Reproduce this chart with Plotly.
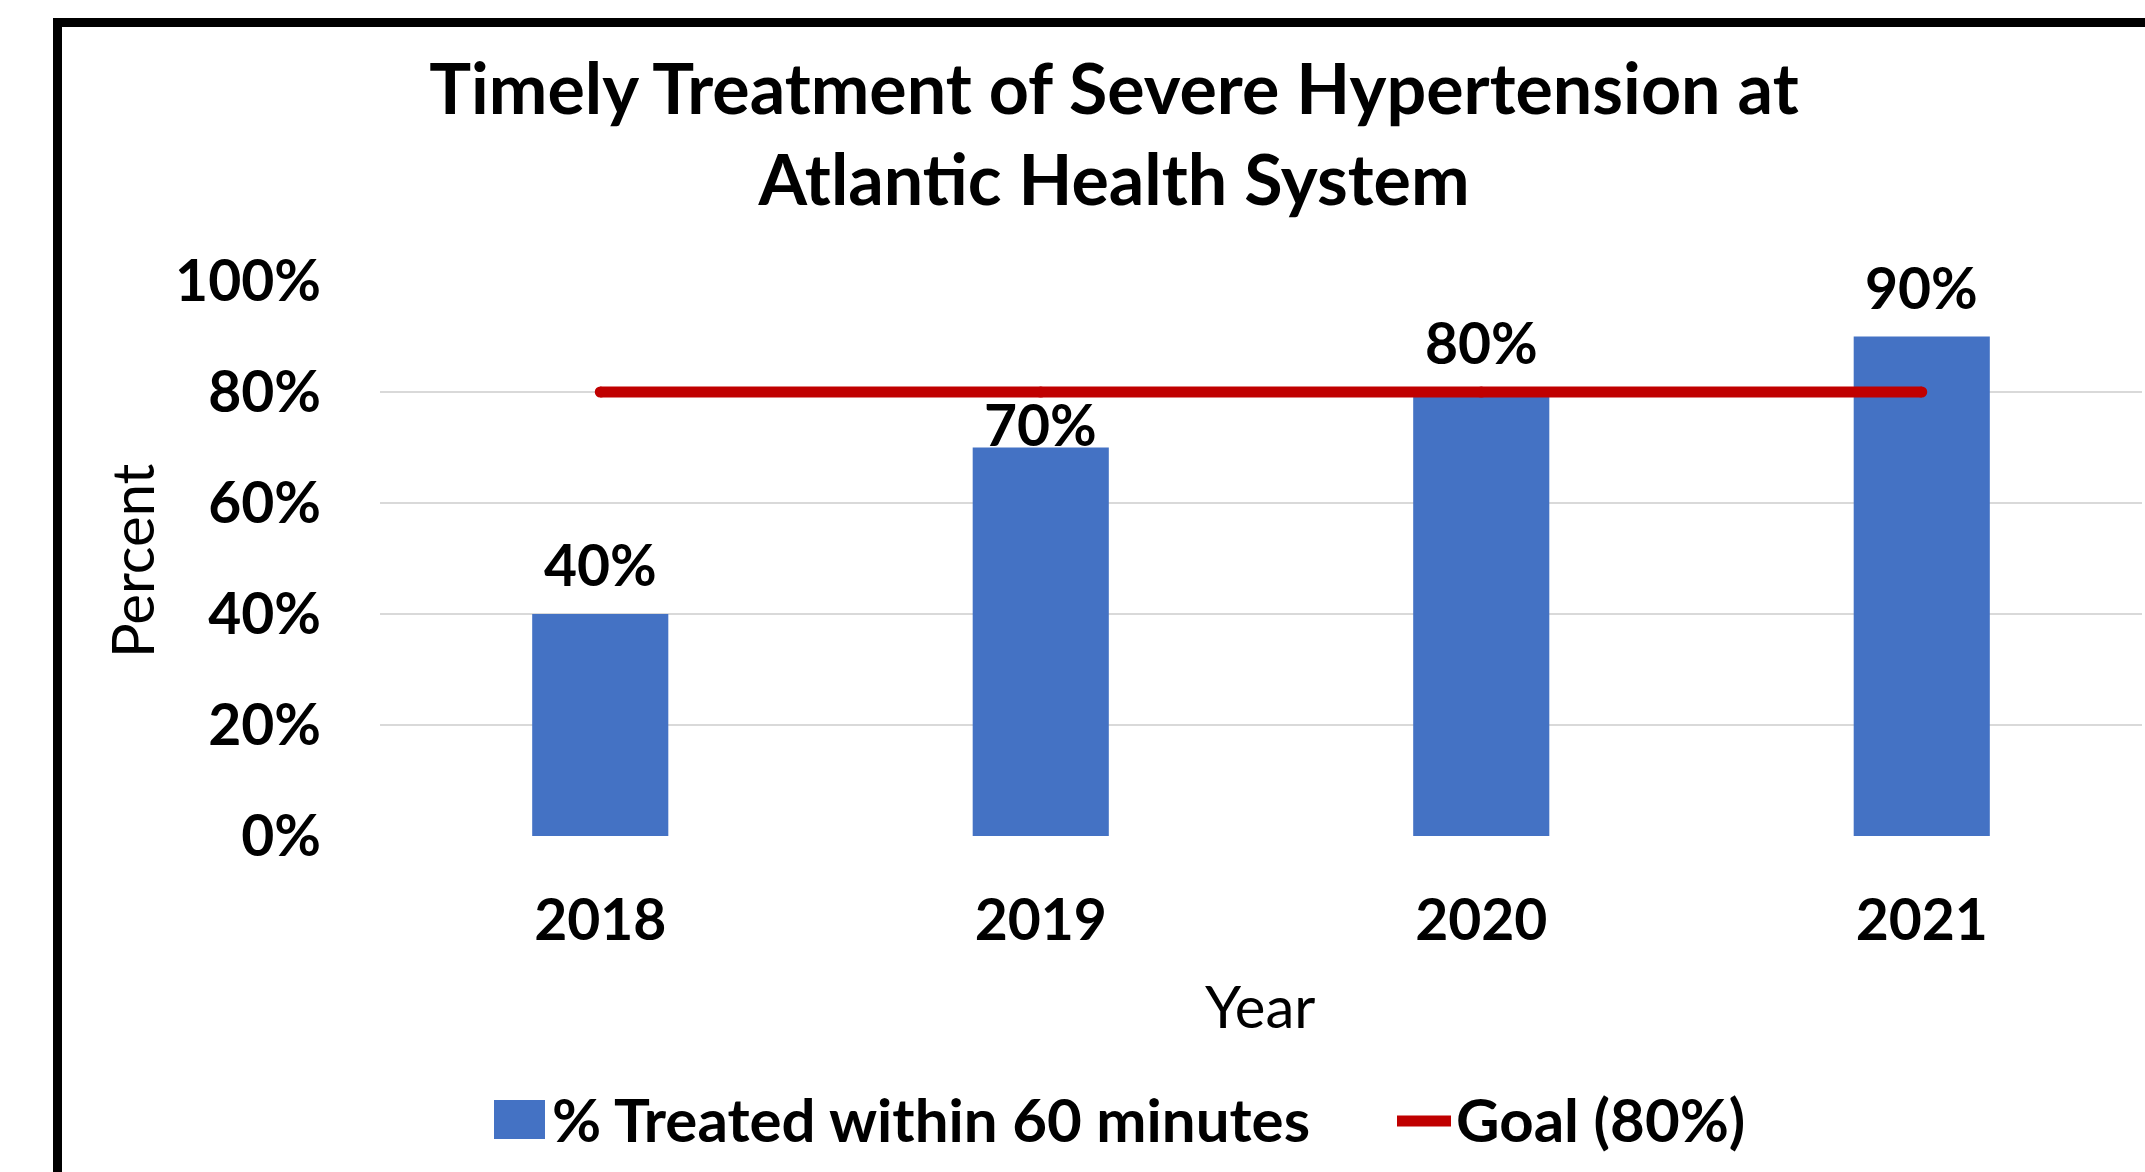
import plotly.graph_objects as go

# ---- data ----
years = ["2018", "2019", "2020", "2021"]
treated = [0.40, 0.70, 0.80, 0.90]
goal = [0.80, 0.80, 0.80, 0.80]
y_ticks = [0, 0.2, 0.4, 0.6, 0.8, 1.0]
y_tick_labels = ["0%", "20%", "40%", "60%", "80%", "100%"]
series_names = ["% Treated within 60 minutes", "Goal (80%)"]
title_text = "Timely Treatment of Severe Hypertension at<br>Atlantic Health System"

# ---- layout geometry (pixels) ----
W, H = 2145, 1172
PL, PR = 380, 2142          # plot left/right
PT, PB = 281, 836           # plot top/bottom

def px_x(x):
    return (x - PL) / (PR - PL)

def px_y(y):
    return (PB - y) / (PB - PT)

FONT = "Lato, 'Open Sans', sans-serif"
BLUE = "#4472C4"
RED = "#C00000"

fig = go.Figure()
fig.add_trace(go.Bar(
    x=years, y=treated, name=series_names[0],
    marker=dict(color=BLUE, line=dict(width=0)),
    cliponaxis=False, showlegend=False,
))
fig.add_trace(go.Scatter(
    x=years, y=goal, name=series_names[1], mode="lines+markers",
    line=dict(color=RED, width=11),
    marker=dict(color=RED, size=11, line=dict(width=0)),
    cliponaxis=False, showlegend=False,
))

# data labels
label_shift = {"2019": 24}
for i, (yr, v) in enumerate(zip(years, treated)):
    fig.add_annotation(
        x=i, y=v, xref="x", yref="y",
        text=f"{round(v*100)}%", showarrow=False,
        yanchor="middle", yshift=label_shift.get(yr, 50),
        font=dict(family=FONT, size=57, color="black", weight="bold"),
    )

# axis titles
fig.add_annotation(
    x=px_x(131), y=px_y(560), xref="paper", yref="paper",
    text="Percent", textangle=-90, showarrow=False,
    xanchor="center", yanchor="middle",
    font=dict(family=FONT, size=58, color="black"),
)
fig.add_annotation(
    x=px_x(1260), y=px_y(1005), xref="paper", yref="paper",
    text="Year", showarrow=False,
    xanchor="center", yanchor="middle",
    font=dict(family=FONT, size=58, color="black"),
)

# legend (drawn manually so the keys match the reference size)
fig.add_shape(
    type="rect", xref="paper", yref="paper",
    x0=px_x(494), x1=px_x(545), y0=px_y(1139), y1=px_y(1100),
    line=dict(width=0), fillcolor=BLUE,
)
fig.add_annotation(
    x=px_x(550), y=px_y(1119), xref="paper", yref="paper",
    text=series_names[0], showarrow=False,
    xanchor="left", yanchor="middle",
    font=dict(family=FONT, size=60, color="black", weight="bold"),
)
fig.add_shape(
    type="line", xref="paper", yref="paper",
    x0=px_x(1397), x1=px_x(1451), y0=px_y(1121), y1=px_y(1121),
    line=dict(color=RED, width=11),
)
fig.add_annotation(
    x=px_x(1454), y=px_y(1119), xref="paper", yref="paper",
    text=series_names[1], showarrow=False,
    xanchor="left", yanchor="middle",
    font=dict(family=FONT, size=60, color="black", weight="bold"),
)

# outer border
fig.add_shape(
    type="rect", xref="paper", yref="paper",
    x0=px_x(57.5), x1=px_x(2230), y0=px_y(1260), y1=px_y(22.5),
    line=dict(color="black", width=9), fillcolor="rgba(0,0,0,0)",
    layer="below",
)

fig.update_layout(
    width=W, height=H,
    margin=dict(l=PL, r=W - PR, t=PT, b=H - PB, autoexpand=False),
    paper_bgcolor="white", plot_bgcolor="white",
    bargap=0.691,
    title=dict(
        text=title_text, x=1114 / W, y=1 - 114 / H,
        xref="container", yref="container",
        xanchor="center", yanchor="middle",
        font=dict(family=FONT, size=70, color="black", weight="bold"),
    ),
    showlegend=False,
    xaxis=dict(
        type="category", range=[-0.5, len(years) - 0.5],
        showgrid=False, showline=False, zeroline=False,
        tickfont=dict(family=FONT, size=57, color="black", weight="bold"),
        ticklabelstandoff=46, ticks="",
    ),
    yaxis=dict(
        range=[0, 1.0], tickvals=y_ticks, ticktext=y_tick_labels,
        showgrid=True, gridcolor="#D9D9D9", gridwidth=2,
        zeroline=False, showline=False, ticks="",
        tickfont=dict(family=FONT, size=57, color="black", weight="bold"),
        ticklabelstandoff=58,
    ),
)

fig.write_html(
    "out.html",
    config={"displayModeBar": False},
    post_script="document.body.style.margin='0px';",
)
